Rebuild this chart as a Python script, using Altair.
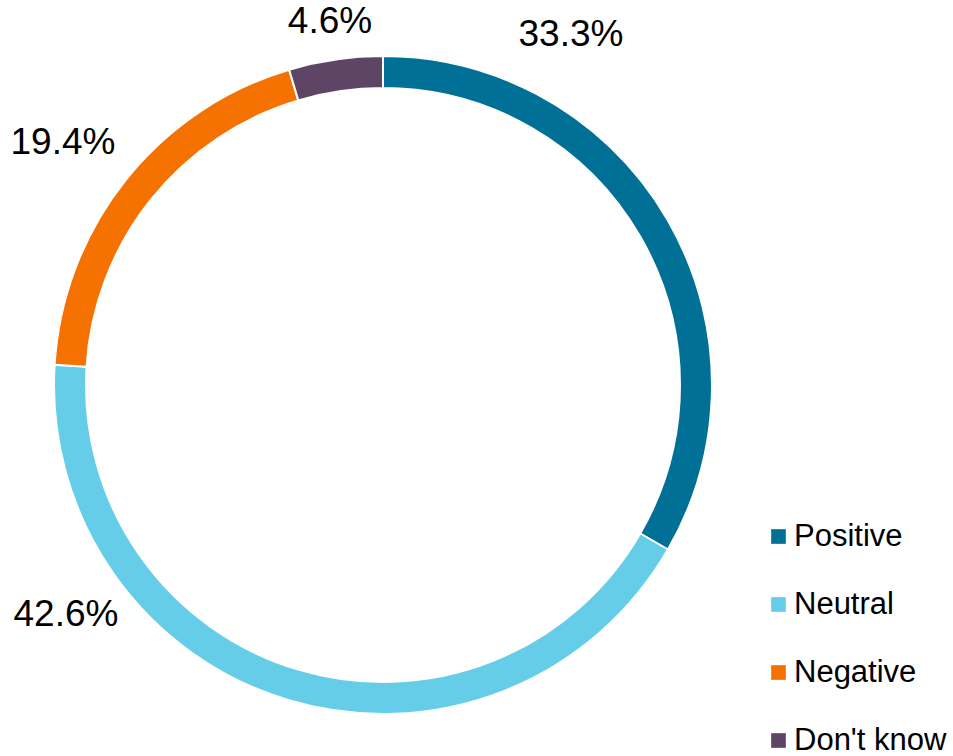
import altair as alt
import pandas as pd

categories = ["Positive", "Neutral", "Negative", "Don't know"]
values = [33.3, 42.6, 19.4, 4.6]
labels = ["33.3%", "42.6%", "19.4%", "4.6%"]
colors = ["#007096", "#66CDE8", "#F57200", "#5E4566"]

df = pd.DataFrame({"category": categories, "value": values, "order": list(range(len(categories)))})

FONT = "Liberation Sans"

ring = alt.Chart(df).mark_arc(
    innerRadius=297, outerRadius=329, stroke="white", strokeWidth=2
).encode(
    theta=alt.Theta("value:Q", stack=True),
    order=alt.Order("order:Q"),
    x=alt.value(383),
    y=alt.value(385),
    color=alt.Color(
        "category:N",
        scale=alt.Scale(domain=categories, range=colors),
        sort=categories,
        legend=alt.Legend(
            title=None, orient="none", legendX=763, legendY=521, padding=0,
            symbolType="square", symbolSize=215, symbolStrokeWidth=0,
            labelFont=FONT, labelFontSize=31, labelColor="black",
            rowPadding=36, labelOffset=0, labelLimit=300,
        ),
    ),
)

# label anchor positions (as placed in the reference)
label_pos = {"33.3%": (571, 35), "42.6%": (66, 615), "19.4%": (63, 143), "4.6%": (330, 22)}
layers = [ring]
for lab in labels:
    px, py = label_pos[lab]
    t = alt.Chart(pd.DataFrame({"label": [lab]})).mark_text(
        font=FONT, fontSize=37, color="black", align="center", baseline="middle"
    ).encode(text="label:N", x=alt.value(px), y=alt.value(py))
    layers.append(t)

chart = alt.layer(*layers).properties(
    width=953, height=756, autosize=alt.AutoSizeParams(type="none"), padding=0
).configure_view(stroke=None)

chart.save("out.html", embed_options={"renderer": "svg", "actions": False})
